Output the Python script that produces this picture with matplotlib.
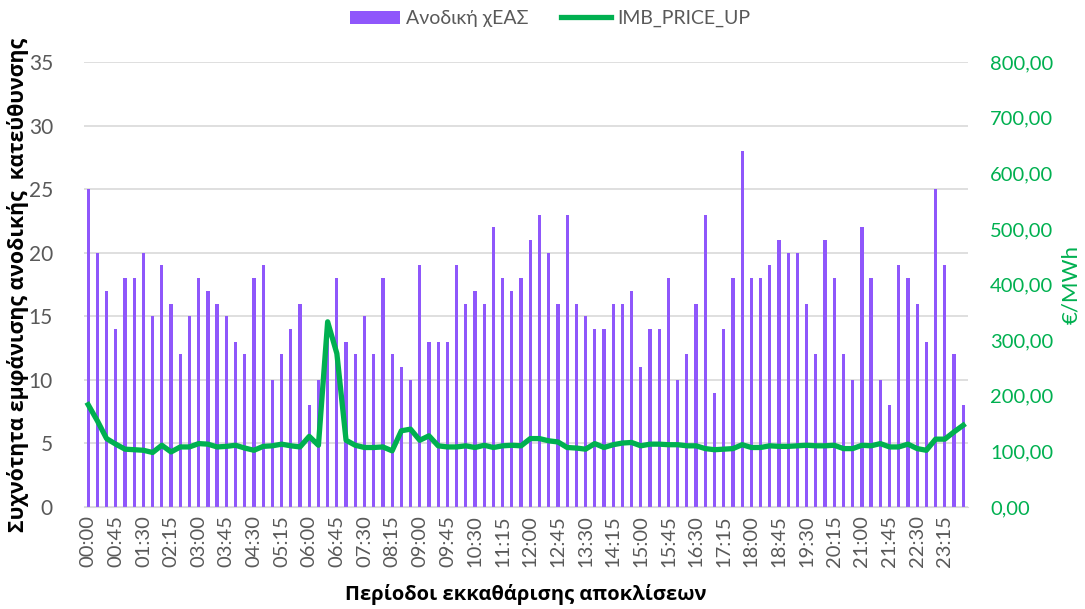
import numpy as np
import matplotlib.pyplot as plt
from matplotlib.ticker import FuncFormatter, MultipleLocator

# 15-minute settlement periods
periods = [f"{h:02d}:{m:02d}" for h in range(24) for m in (0, 15, 30, 45)]

up_counts = [25, 20, 17, 14, 18, 18, 20, 15, 19, 16, 12, 15, 18, 17, 16, 15,
             13, 12, 18, 19, 10, 12, 14, 16, 8, 10, 14, 18, 13, 12, 15, 12,
             18, 12, 11, 10, 19, 13, 13, 13, 19, 16, 17, 16, 22, 18, 17, 18,
             21, 23, 20, 16, 23, 16, 15, 14, 14, 16, 16, 17, 11, 14, 14, 18,
             10, 12, 16, 23, 9, 14, 18, 28, 18, 18, 19, 21, 20, 20, 16, 12,
             21, 18, 12, 10, 22, 18, 10, 8, 19, 18, 16, 13, 25, 19, 12, 8]

imb_price_up = [184, 155, 123, 113, 104, 103, 102, 98, 111, 99, 108, 108,
                114, 113, 108, 109, 111, 106, 102, 109, 110, 113, 110, 108,
                127, 111, 333, 276, 120, 111, 107, 107, 108, 101, 137, 140,
                120, 128, 110, 108, 108, 110, 107, 111, 107, 110, 111, 110,
                123, 123, 119, 117, 107, 106, 104, 114, 107, 112, 115, 116,
                110, 113, 113, 112, 112, 110, 110, 105, 103, 104, 105, 112,
                107, 107, 110, 109, 109, 110, 111, 110, 110, 111, 105, 105,
                111, 110, 114, 108, 108, 113, 105, 102, 122, 122, 135, 147]

purple = "#8F57FB"
green = "#00B050"
grey = "#595959"

plt.rcParams['font.family'] = ['Lato', 'Noto Sans', 'DejaVu Sans']
bold_font = ['Open Sans', 'Noto Sans', 'DejaVu Sans']

fig = plt.figure(figsize=(10.85, 6.09), dpi=100)
ax = fig.add_axes([0.077, 0.1675, 0.815, 0.7305])
ax2 = ax.twinx()

x = np.arange(len(periods))
bars = ax.bar(x, up_counts, width=0.35, color=purple, label="Ανοδική χΕΑΣ", zorder=2)
line, = ax2.plot(x, imb_price_up, color=green, lw=3.8, solid_joinstyle='round',
                 label="IMB_PRICE_UP")

ax.set_xlim(-0.5, len(periods) - 0.5)
ax.set_ylim(0, 35)
ax.yaxis.set_major_locator(MultipleLocator(5))
ax.grid(axis='y', color="#D9D9D9", lw=1.2, zorder=0)
ax.set_axisbelow(True)

ax2.set_ylim(0, 800)
ax2.yaxis.set_major_locator(MultipleLocator(100))
ax2.yaxis.set_major_formatter(FuncFormatter(lambda v, p: f"{v:.2f}".replace('.', ',')))

ax.set_xticks(x[::3])
ax.set_xticklabels(periods[::3], rotation=90)

for a in (ax, ax2):
    for s in a.spines.values():
        s.set_visible(False)
ax.spines['bottom'].set_visible(True)
ax.spines['bottom'].set_color("#D9D9D9")

ax.tick_params(axis='y', length=0, labelsize=15, labelcolor=grey, pad=22)
ax.tick_params(axis='x', length=0, labelsize=14.5, labelcolor=grey, pad=6)
ax2.tick_params(axis='y', length=0, labelsize=14.5, labelcolor=green, pad=16)

ax.set_ylabel("Συχνότητα εμφάνισης ανοδικής  κατεύθυνσης", fontsize=15.3,
              fontweight='bold', family=bold_font, labelpad=0)
ax.set_xlabel("Περίοδοι εκκαθάρισης αποκλίσεων", fontsize=14.5, fontweight='bold',
              family=bold_font, labelpad=12)
ax2.set_ylabel("€/MWh", fontsize=16, color=green, labelpad=6)

fig.legend(handles=[bars, line], loc='upper center', bbox_to_anchor=(0.507, 1.012),
           ncol=2, frameon=False, fontsize=14, labelcolor=grey,
           handlelength=2.6, columnspacing=1.65, handletextpad=0.3)

fig.savefig("out.png", dpi=100)
